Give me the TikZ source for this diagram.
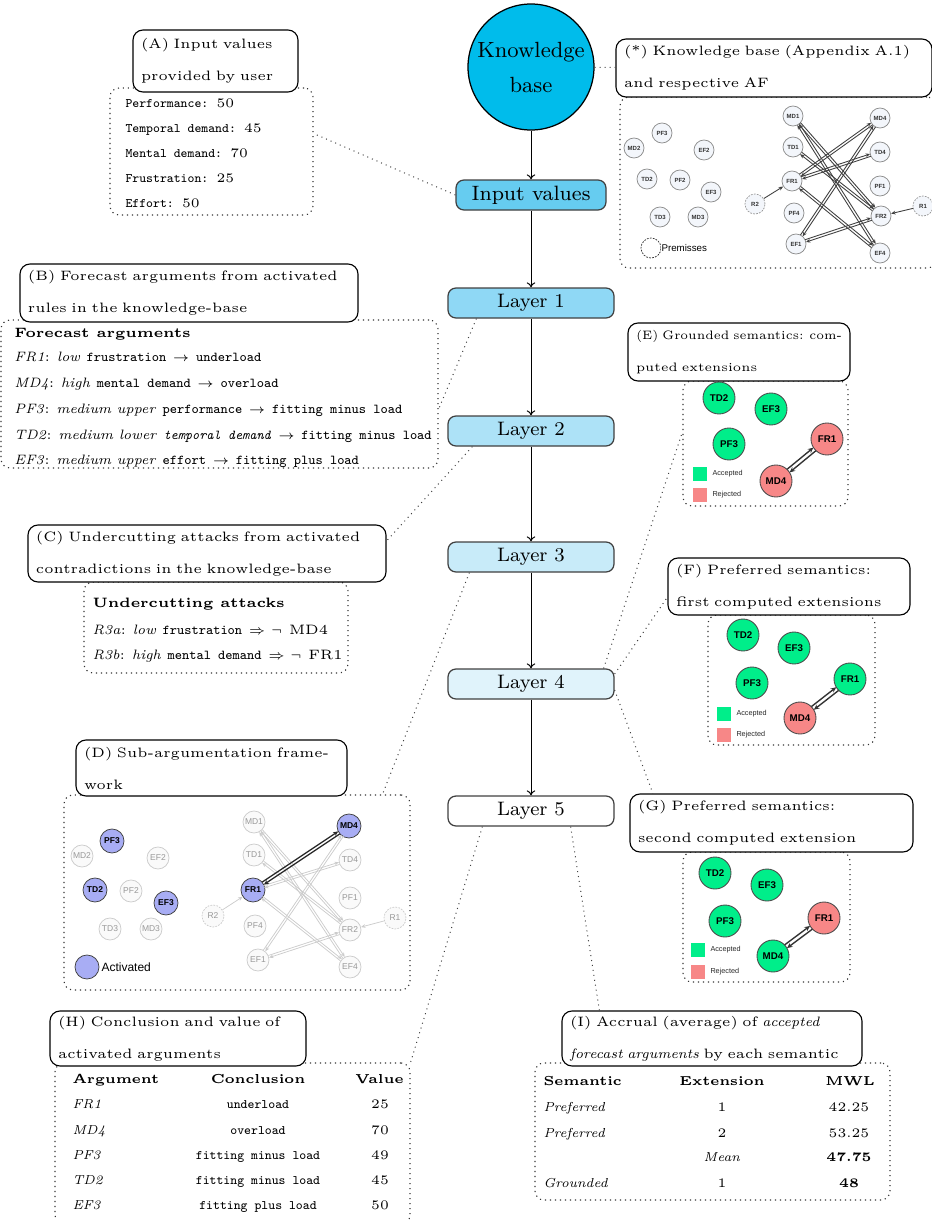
\documentclass[tikz,border=0pt]{standalone}
\usepackage{fontspec}
\newfontfamily\afsans{Liberation Sans}
\usetikzlibrary{arrows.meta,calc,fit}

\definecolor{kbcyan}{HTML}{00BCEB}
\definecolor{inputcol}{HTML}{66CCF0}
\definecolor{layA}{HTML}{8FD8F5}
\definecolor{layB}{HTML}{ADE2F7}
\definecolor{layC}{HTML}{C8EBF9}
\definecolor{layD}{HTML}{E0F3FB}
\definecolor{accgreen}{HTML}{00EE8A}
\definecolor{rejred}{HTML}{F78787}
\definecolor{actblue}{HTML}{A8ADF4}
\definecolor{afill}{HTML}{F3F6FB}

% two opposite attacks drawn as parallel arrows between nodes #2 and #3
\newcommand\afpair[4]{%
  \draw[#1] ($(#2)!#4!90:(#3)$) -- ($(#3)!#4!-90:(#2)$);
  \draw[#1] ($(#3)!#4!90:(#2)$) -- ($(#2)!#4!-90:(#3)$);}

\begin{document}
\begin{tikzpicture}[x=0.4pt, y=-0.4pt,
  flowbox/.style={draw=black!75, line width=0.5pt, rounded corners=3.2pt,
    minimum width=66.4pt, minimum height=12pt, inner sep=0pt,
    font=\fontsize{7.8}{9}\selectfont},
  flow/.style={-{To[length=2pt,width=3.4pt]}, line width=0.4pt},
  titlebox/.style={draw=black, line width=0.45pt, rounded corners=4pt, fill=white,
    inner xsep=3.2pt, inner ysep=0pt, align=left, font=\fontsize{5.45}{12.8}\selectfont},
  dotbox/.style={draw=black!80, line width=0.45pt, dash pattern=on 0.45pt off 1.55pt,
    rounded corners=3.6pt, inner sep=0pt},
  link/.style={draw=black!75, line width=0.4pt, dash pattern=on 0.4pt off 1.6pt},
  txt/.style={anchor=base west, inner sep=0pt, font=\fontsize{5.2}{6}\selectfont},
  wtxt/.style={anchor=base west, inner sep=0pt, font=\fontsize{5.45}{6}\selectfont},
  cell/.style={inner sep=0pt, font=\fontsize{5.2}{6}\selectfont},
  % knowledge-base argumentation framework
  kaf/.style={circle, draw=black!45, fill=afill, line width=0.3pt, minimum size=8pt,
    inner sep=0pt, font=\afsans\bfseries\fontsize{2.4}{3}\selectfont, text=black!80},
  kprem/.style={kaf, draw=black!40, dash pattern=on 0.7pt off 0.5pt},
  katt/.style={-{Stealth[length=1.8pt,width=1.5pt]}, line width=0.35pt, draw=black!75,
    shorten >=4pt, shorten <=4pt},
  ksingle/.style={-{Stealth[length=1.8pt,width=1.5pt]}, line width=0.35pt, draw=black!75},
  % sub-argumentation framework
  dnode/.style={circle, draw=black!20, fill=black!2, line width=0.3pt, minimum size=8.8pt,
    inner sep=0pt, font=\afsans\fontsize{3.4}{4}\selectfont, text=black!40},
  dact/.style={dnode, draw=black!75, fill=actblue, text=black, minimum size=9.6pt,
    font=\afsans\bfseries\fontsize{3.4}{4}\selectfont},
  dprem/.style={dnode, dash pattern=on 0.7pt off 0.5pt},
  datt/.style={-{Stealth[length=1.8pt,width=1.5pt]}, line width=0.3pt, draw=black!20,
    shorten >=4.5pt, shorten <=4.5pt},
  dattk/.style={-{Stealth[length=2pt,width=1.8pt]}, line width=0.5pt, draw=black!85,
    shorten >=4.8pt, shorten <=4.8pt},
  dsingle/.style={-{Stealth[length=1.8pt,width=1.5pt]}, line width=0.3pt, draw=black!20},
  % semantics panels
  acc/.style={circle, draw=black!70, line width=0.35pt, fill=accgreen, minimum size=12.8pt,
    inner sep=0pt, font=\afsans\bfseries\fontsize{3.9}{4}\selectfont},
  rej/.style={acc, fill=rejred},
  satt/.style={-{Stealth[length=2.2pt,width=2pt]}, line width=0.55pt, draw=black!80,
    shorten >=6.4pt, shorten <=6.4pt},
  legsq/.style={minimum size=5.6pt, inner sep=0pt},
  legtxt/.style={anchor=west, inner sep=0pt, font=\afsans\fontsize{2.9}{3}\selectfont, text=black!85},
]
\useasboundingbox (0,0) rectangle (932,1220);

% ---------- dotted panels ----------
\node[dotbox, fit={(110,88) (313,215)}] (Ain) {};
\node[dotbox, fit={(620,97) (936,268)}] (Kin) {};
\node[dotbox, fit={(1,320) (438,468)}] (Bin) {};
\node[dotbox, fit={(84,582) (348,673)}] (Cin) {};
\node[dotbox, fit={(64,795) (410,990)}] (Din) {};
\node[dotbox, fit={(683,381) (848,506)}] (Ein) {};
\node[dotbox, fit={(708,615) (875,745)}] (Fin) {};
\node[dotbox, fit={(683,852) (850,982)}] (Gin) {};
\node[dotbox, fit={(55,1063) (410,1224)}] (Hin) {};
\node[dotbox, fit={(535,1063) (890,1200)}] (Iin) {};

% ---------- titles ----------
\node[titlebox, minimum width=66pt, minimum height=24.8pt, text width=59.6pt] (tA) at (215.5,61)
  {(A) Input values\\provided by user};
\node[titlebox, minimum width=126.4pt, minimum height=23.2pt, text width=120pt] (tK) at (774,68)
  {\makebox[\hsize][s]{(*) Knowledge base (Appendix A.1)}\\and respective AF};
\node[titlebox, minimum width=135.2pt, minimum height=23.2pt, text width=128.8pt] (tB) at (189,293)
  {(B) Forecast arguments from activated\\rules in the knowledge-base};
\node[titlebox, minimum width=143.2pt, minimum height=22.8pt, text width=136.8pt] (tC) at (207,553.5)
  {(C) Undercutting attacks from activated\\contradictions in the knowledge-base};
\node[titlebox, minimum width=108.4pt, minimum height=22.4pt, text width=102pt] (tD) at (211.5,768)
  {\makebox[\hsize][s]{(D) Sub-argumentation frame-}\\work};
\node[titlebox, minimum width=88.8pt, minimum height=23.2pt, text width=82.4pt,
  font=\fontsize{4.9}{12.8}\selectfont] (tE) at (739,352)
  {\resizebox{\hsize}{\height}{(E) Grounded semantics: com-}\\puted extensions};
\node[titlebox, minimum width=96.8pt, minimum height=22.8pt, text width=90.4pt] (tF) at (789,586.5)
  {(F) Preferred semantics:\\first computed extensions};
\node[titlebox, minimum width=113.2pt, minimum height=23.2pt, text width=106.8pt] (tG) at (771.5,823)
  {(G) Preferred semantics:\\second computed extension};
\node[titlebox, minimum width=102.4pt, minimum height=22pt, text width=96pt] (tH) at (178,1038.5)
  {(H) Conclusion and value of\\activated arguments};
\node[titlebox, minimum width=120pt, minimum height=22pt, text width=113.6pt] (tI) at (712,1038.5)
  {(I) Accrual (average) of \textit{accepted}\\\textit{forecast arguments} by each semantic};

% ---------- main flow ----------
\node[circle, draw, line width=0.5pt, fill=kbcyan, minimum size=50.4pt, inner sep=0pt,
  align=center, font=\fontsize{8.8}{14}\selectfont] (kb) at (531,67) {Knowledge\\base};
\node[flowbox, fill=inputcol, minimum width=60pt, font=\fontsize{8.3}{9}\selectfont] (inp) at (531,195) {Input values};
\node[flowbox, fill=layA] (l1) at (531,303) {Layer 1};
\node[flowbox, fill=layB] (l2) at (531,431) {Layer 2};
\node[flowbox, fill=layC] (l3) at (531,557) {Layer 3};
\node[flowbox, fill=layD] (l4) at (531,684) {Layer 4};
\node[flowbox, fill=white] (l5) at (531,811) {Layer 5};
\draw[flow] (kb) -- (inp);
\draw[flow] (inp) -- (l1);
\draw[flow] (l1) -- (l2);
\draw[flow] (l2) -- (l3);
\draw[flow] (l3) -- (l4);
\draw[flow] (l4) -- (l5);

% ---------- dotted links ----------
\draw[link] (kb) -- (tK);
\draw[link] (inp.west) -- (Ain.10);
\draw[link] ([xshift=11.6pt]l1.south west) -- (Bin.-4);
\draw[link] ([xshift=10pt]l2.south west) -- (tC.4);
\draw[link] ([xshift=8.8pt]l3.south west) -- (Din.34);
\draw[link] ([xshift=-4.4pt]l4.north east) -- (Ein.172);
\draw[link] ([yshift=4pt]l4.east) -- (tF.185);
\draw[link] ([yshift=-2.4pt]l4.east) -- (tG.166);
\draw[link] ([xshift=14pt]l5.south west) -- (Hin.north east);
\draw[link] ([xshift=-17.6pt]l5.south east) -- (tI.166);

% ---------- (A) input values ----------
\node[txt] (a1) at (125,107) {\texttt{Performance:} 50};
\node[txt] (a2) at (125,132) {\texttt{Temporal demand:} 45};
\node[txt] (a3) at (125,157) {\texttt{Mental demand:} 70};
\node[txt] (a4) at (125,182) {\texttt{Frustration:} 25};
\node[txt] (a5) at (125,207) {\texttt{Effort:} 50};

% ---------- (B) forecast arguments ----------
\node[wtxt] (b0) at (14,337) {\textbf{Forecast arguments}};
\node[wtxt] (b1) at (14,361) {\textit{FR1}:\enspace\textit{low} \texttt{frustration} $\rightarrow$ \texttt{underload}};
\node[wtxt] (b2) at (14,387) {\textit{MD4}:\enspace\textit{high} \texttt{mental demand} $\rightarrow$ \texttt{overload}};
\node[wtxt] (b3) at (14,413) {\textit{PF3}:\enspace\textit{medium upper} \texttt{performance} $\rightarrow$ \texttt{fitting minus load}};
\node[wtxt] (b4) at (14,439) {\textit{TD2}:\enspace\textit{medium lower} \texttt{\itshape temporal demand}\enspace$\rightarrow$ \texttt{fitting minus load}};
\node[wtxt] (b5) at (14,464) {\textit{EF3}:\enspace\textit{medium upper} \texttt{effort} $\rightarrow$ \texttt{fitting plus load}};

% ---------- (C) undercutting attacks ----------
\node[wtxt] (c0) at (92,607) {\textbf{Undercutting attacks}};
\node[wtxt] (c1) at (92,634) {\textit{R3a}:\enspace\textit{low} \texttt{frustration} $\Rightarrow\neg$ MD4};
\node[wtxt] (c2) at (92,659) {\textit{R3b}:\enspace\textit{high} \texttt{mental demand} $\Rightarrow\neg$ FR1};

% ---------- (*) knowledge-base AF ----------
\node[kaf] (kPF3) at (662,133) {PF3};
\node[kaf] (kMD2) at (634,148) {MD2};
\node[kaf] (kEF2) at (704,150) {EF2};
\node[kaf] (kTD2) at (647,179) {TD2};
\node[kaf] (kPF2) at (680,180) {PF2};
\node[kaf] (kEF3) at (711,192) {EF3};
\node[kaf] (kTD3) at (660,217) {TD3};
\node[kaf] (kMD3) at (698,217) {MD3};
\node[kaf] (kMD1) at (793,116) {MD1};
\node[kaf] (kTD1) at (793,147) {TD1};
\node[kaf] (kFR1) at (792,181) {FR1};
\node[kaf] (kPF4) at (794,213) {PF4};
\node[kaf] (kEF1) at (796,244) {EF1};
\node[kprem] (kR2) at (755,204) {R2};
\node[kaf] (kMD4) at (880,118) {MD4};
\node[kaf] (kTD4) at (880,152) {TD4};
\node[kaf] (kPF1) at (880,186) {PF1};
\node[kaf] (kFR2) at (881,216) {FR2};
\node[kaf] (kEF4) at (880,253) {EF4};
\node[kprem] (kR1) at (923,206) {R1};
\afpair{katt}{kFR1}{kMD4}{0.5pt}
\afpair{katt}{kFR1}{kTD4}{0.5pt}
\afpair{katt}{kFR1}{kEF4}{0.5pt}
\afpair{katt}{kMD1}{kFR2}{0.5pt}
\afpair{katt}{kMD1}{kEF4}{0.5pt}
\afpair{katt}{kTD1}{kFR2}{0.5pt}
\afpair{katt}{kEF1}{kMD4}{0.5pt}
\afpair{katt}{kEF1}{kFR2}{0.5pt}
\draw[ksingle] (kR2) -- (kFR1);
\draw[ksingle] (kR1) -- (kFR2);
\node[kprem, draw=black!80, fill=white] (kleg) at (651,248) {};
\node[anchor=west, inner sep=0.4pt, fill=white, font=\afsans\fontsize{3.9}{4}\selectfont] (klegt) at (660,248) {Premisses};

% ---------- (D) sub-argumentation framework ----------
\node[dact] (dPF3) at (112,841) {PF3};
\node[dnode] (dMD2) at (82,856) {MD2};
\node[dnode] (dEF2) at (158,858) {EF2};
\node[dact] (dTD2) at (95,890) {TD2};
\node[dnode] (dPF2) at (131,891) {PF2};
\node[dact] (dEF3) at (166,903) {EF3};
\node[dnode] (dTD3) at (110,929) {TD3};
\node[dnode] (dMD3) at (151,929) {MD3};
\node[dnode] (dMD1) at (254,822) {MD1};
\node[dnode] (dTD1) at (254,855) {TD1};
\node[dact] (dFR1) at (253,890) {FR1};
\node[dnode] (dPF4) at (255,926) {PF4};
\node[dnode] (dEF1) at (258,960) {EF1};
\node[dprem] (dR2) at (213,916) {R2};
\node[dact] (dMD4) at (349,826) {MD4};
\node[dnode] (dTD4) at (350,860) {TD4};
\node[dnode] (dPF1) at (350,898) {PF1};
\node[dnode] (dFR2) at (350,930) {FR2};
\node[dnode] (dEF4) at (350,967) {EF4};
\node[dprem] (dR1) at (395,918) {R1};
\afpair{datt}{dMD1}{dFR2}{0.45pt}
\afpair{datt}{dMD1}{dEF4}{0.45pt}
\afpair{datt}{dTD1}{dFR2}{0.45pt}
\afpair{datt}{dFR1}{dTD4}{0.45pt}
\afpair{datt}{dFR1}{dEF4}{0.45pt}
\afpair{datt}{dEF1}{dMD4}{0.45pt}
\afpair{datt}{dEF1}{dFR2}{0.45pt}
\afpair{dattk}{dFR1}{dMD4}{0.6pt}
\draw[dsingle] (dR2) -- (dFR1);
\draw[dsingle] (dR1) -- (dFR2);
\node[dact] (dleg) at (87,967) {};
\node[anchor=west, inner sep=0pt, font=\afsans\fontsize{4.8}{5}\selectfont] (dlegt) at (101,967) {Activated};

% ---------- (E) grounded semantics ----------
\node[acc] (eTD2) at (719,398) {TD2};
\node[acc] (eEF3) at (771,409) {EF3};
\node[acc] (ePF3) at (729,444) {PF3};
\node[rej] (eFR1) at (827,439) {FR1};
\node[rej] (eMD4) at (776,481) {MD4};
\afpair{satt}{eFR1}{eMD4}{0.8pt}
\node[legsq, fill=accgreen] (eacc) at (700,474) {};
\node[legtxt] (eacct) at (712,474) {Accepted};
\node[legsq, fill=rejred] (erej) at (700,495) {};
\node[legtxt] (erejt) at (712,495) {Rejected};

% ---------- (F) preferred semantics, first extension ----------
\node[acc] (fTD2) at (743,635) {TD2};
\node[acc] (fEF3) at (794,648) {EF3};
\node[acc] (fPF3) at (752,683) {PF3};
\node[acc] (fFR1) at (850,679) {FR1};
\node[rej] (fMD4) at (800,718) {MD4};
\afpair{satt}{fFR1}{fMD4}{0.8pt}
\node[legsq, fill=accgreen] (facc) at (724,714) {};
\node[legtxt] (facct) at (736,714) {Accepted};
\node[legsq, fill=rejred] (frej) at (724,735) {};
\node[legtxt] (frejt) at (736,735) {Rejected};

% ---------- (G) preferred semantics, second extension ----------
\node[acc] (gTD2) at (715,873) {TD2};
\node[acc] (gEF3) at (767,885) {EF3};
\node[acc] (gPF3) at (725,921) {PF3};
\node[rej] (gFR1) at (824,918) {FR1};
\node[acc] (gMD4) at (773,956) {MD4};
\afpair{satt}{gFR1}{gMD4}{0.8pt}
\node[legsq, fill=accgreen] (gacc) at (698,950) {};
\node[legtxt] (gacct) at (710,950) {Accepted};
\node[legsq, fill=rejred] (grej) at (698,972) {};
\node[legtxt] (grejt) at (710,972) {Rejected};

% ---------- (H) conclusions and values ----------
\node[cell, anchor=base west] (h0a) at (72,1083) {\textbf{Argument}};
\node[cell, anchor=base] (h0b) at (258,1083) {\textbf{Conclusion}};
\node[cell, anchor=base east] (h0c) at (404,1083) {\textbf{Value}};
\node[cell, anchor=base west] (h1a) at (72,1108) {\textit{FR1}};
\node[cell, anchor=base] (h1b) at (258,1108) {\texttt{underload}};
\node[cell, anchor=base] (h1c) at (380,1108) {25};
\node[cell, anchor=base west] (h2a) at (72,1134) {\textit{MD4}};
\node[cell, anchor=base] (h2b) at (258,1134) {\texttt{overload}};
\node[cell, anchor=base] (h2c) at (380,1134) {70};
\node[cell, anchor=base west] (h3a) at (72,1159) {\textit{PF3}};
\node[cell, anchor=base] (h3b) at (258,1159) {\texttt{fitting minus load}};
\node[cell, anchor=base] (h3c) at (380,1159) {49};
\node[cell, anchor=base west] (h4a) at (72,1184) {\textit{TD2}};
\node[cell, anchor=base] (h4b) at (258,1184) {\texttt{fitting minus load}};
\node[cell, anchor=base] (h4c) at (380,1184) {45};
\node[cell, anchor=base west] (h5a) at (72,1209) {\textit{EF3}};
\node[cell, anchor=base] (h5b) at (258,1209) {\texttt{fitting plus load}};
\node[cell, anchor=base] (h5c) at (380,1209) {50};

% ---------- (I) accrual ----------
\node[cell, anchor=base west] (i0a) at (543,1085) {\textbf{Semantic}};
\node[cell, anchor=base] (i0b) at (722,1085) {\textbf{Extension}};
\node[cell, anchor=base] (i0c) at (850,1085) {\textbf{MWL}};
\node[cell, anchor=base west] (i1a) at (543,1111) {\textit{Preferred}};
\node[cell, anchor=base] (i1b) at (722,1111) {1};
\node[cell, anchor=base] (i1c) at (849,1111) {42.25};
\node[cell, anchor=base west] (i2a) at (543,1137) {\textit{Preferred}};
\node[cell, anchor=base] (i2b) at (722,1137) {2};
\node[cell, anchor=base] (i2c) at (849,1137) {53.25};
\node[cell, anchor=base] (i3b) at (722,1161) {\textit{Mean}};
\node[cell, anchor=base] (i3c) at (849,1161) {\textbf{47.75}};
\node[cell, anchor=base west] (i4a) at (543,1187) {\textit{Grounded}};
\node[cell, anchor=base] (i4b) at (722,1187) {1};
\node[cell, anchor=base] (i4c) at (849,1187) {\textbf{48}};
\end{tikzpicture}
\end{document}
